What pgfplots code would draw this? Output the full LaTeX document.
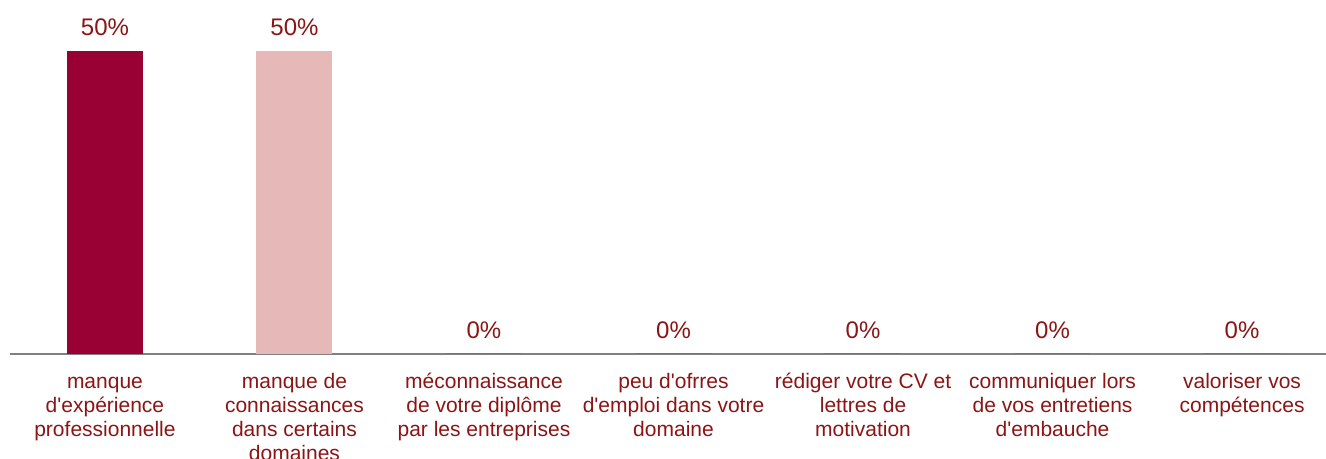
\documentclass[border=0pt]{standalone}
\usepackage{pgfplots}
\pgfplotsset{compat=1.18}
\usepackage{fontspec}
\setmainfont{Liberation Sans}
\definecolor{barA}{HTML}{990033}
\definecolor{barB}{HTML}{E6B9B8}
\definecolor{txt}{RGB}{140,20,20}
\definecolor{axisgray}{HTML}{808080}
\newcommand{\q}{\textquotesingle}
\newcommand{\s}{\rule{0pt}{8pt}}
\begin{document}
\begin{tikzpicture}
\useasboundingbox (-5pt,-52.5pt) rectangle (658pt,177pt);
\clip (-5pt,-52.5pt) rectangle (658pt,177pt);
\begin{axis}[
    at={(0,0)}, anchor=south west,
    scale only axis,
    width=658pt, height=151.5pt,
    ybar, bar width=38pt, bar shift=0pt,
    xmin=-0.501, xmax=6.443,
    ymin=0, ymax=50,
    clip=false,
    axis x line*=bottom,
    hide y axis,
    x axis line style={draw=axisgray, line width=1pt, -},
    xtick={0,1,2,3,4,5,6},
    major tick length=0pt,
    xticklabels={
        {\s manque\\d\q expérience\\professionnelle},
        {\s manque de\\connaissances\\dans certains\\domaines},
        {\s méconnaissance\\de votre diplôme\\par les entreprises},
        {\s peu d\q ofrres\\d\q emploi dans votre\\domaine},
        {\s rédiger votre CV et\\lettres de\\motivation},
        {\s communiquer lors\\de vos entretiens\\d\q embauche},
        {\s valoriser vos\\compétences}},
    xticklabel style={align=center, font=\fontsize{10.5}{12}\selectfont, text=txt,
        anchor=north, inner sep=0pt, yshift=-9pt},
    /pgf/number format/assume math mode=true,
    nodes near coords={\pgfmathprintnumber{\pgfplotspointmeta}\%},
    every node near coord/.append style={font=\fontsize{12}{14}\selectfont, text=txt,
        anchor=south, inner sep=0pt, yshift=7.5pt},
]
\addplot[fill=barA, draw=none] coordinates {(0,50)};
\addplot[fill=barB, draw=none] coordinates {(1,50)};
\addplot[fill=barA, draw=none] coordinates {(2,0) (3,0) (4,0) (5,0) (6,0)};
\end{axis}
\end{tikzpicture}
\end{document}
